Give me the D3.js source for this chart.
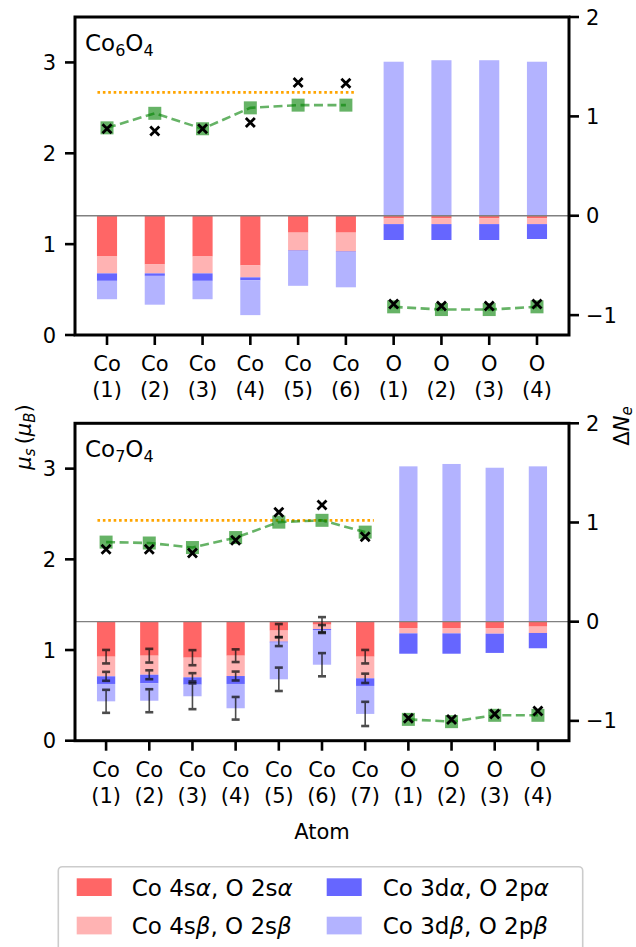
<!DOCTYPE html>
<html>
<head>
<meta charset="utf-8">
<script src="https://cdn.jsdelivr.net/npm/d3@7"></script>
<style>
  body { margin: 0; background: #fff; }
  svg { font-family: "DejaVu Sans", sans-serif; }
</style>
</head>
<body>
<svg id="chart" width="636" height="947"></svg>
<script>
// ---- data, Co6O4 (top panel) ----
const labels6 = ["Co\n(1)", "Co\n(2)", "Co\n(3)", "Co\n(4)", "Co\n(5)", "Co\n(6)", "O\n(1)", "O\n(2)", "O\n(3)", "O\n(4)"];
const sAlpha6 = [-0.41, -0.49, -0.41, -0.50, -0.17, -0.17, -0.027, -0.027, -0.027, -0.027];
const sBeta6  = [-0.17, -0.09, -0.17, -0.12, -0.18, -0.19, -0.057, -0.057, -0.057, -0.057];
const dAlpha6 = [-0.075, -0.025, -0.075, -0.03, -0.005, -0.005, -0.16, -0.16, -0.16, -0.15];
const dBeta6  = [-0.185, -0.29, -0.185, -0.35, -0.35, -0.355, 1.55, 1.565, 1.565, 1.55];
const muSq6    = [2.28, 2.44, 2.27, 2.50, 2.53, 2.53, 0.31, 0.28, 0.28, 0.31];
const muCross6 = [2.27, 2.245, 2.27, 2.34, 2.78, 2.77, 0.34, 0.32, 0.32, 0.34];
const muRef6 = 2.67;

// ---- data, Co7O4 (bottom panel) ----
const labels7 = ["Co\n(1)", "Co\n(2)", "Co\n(3)", "Co\n(4)", "Co\n(5)", "Co\n(6)", "Co\n(7)", "O\n(1)", "O\n(2)", "O\n(3)", "O\n(4)"];
const sAlpha7 = [-0.353, -0.343, -0.363, -0.343, -0.09, -0.03, -0.353, -0.064, -0.064, -0.064, -0.05];
const sBeta7  = [-0.198, -0.192, -0.198, -0.205, -0.111, -0.044, -0.218, -0.054, -0.054, -0.057, -0.064];
const dAlpha7 = [-0.077, -0.087, -0.074, -0.08, -0.01, -0.01, -0.077, -0.205, -0.205, -0.194, -0.154];
const dBeta7  = [-0.175, -0.175, -0.117, -0.245, -0.37, -0.35, -0.282, 1.566, 1.59, 1.552, 1.566];
const muSq7    = [2.19, 2.18, 2.13, 2.24, 2.41, 2.43, 2.30, 0.235, 0.21, 0.28, 0.28];
const muCross7 = [2.11, 2.11, 2.07, 2.21, 2.52, 2.60, 2.25, 0.247, 0.235, 0.294, 0.327];
const muRef7 = 2.43;
// error bars (Co only): after 4s alpha, after 4s beta, on the total
const errS7a  = [0.068, 0.069, 0.076, 0.064, 0.066, 0.076, 0.068];
const errS7b  = [0.045, 0.045, 0.042, 0.045, 0.045, 0.04, 0.047];
const errTot7 = [0.116, 0.116, 0.13, 0.114, 0.118, 0.117, 0.122];

const muTicks = [0, 1, 2, 3];
const dnTicks = [-1, 0, 1, 2];

const keys = ["sAlpha", "sBeta", "dAlpha", "dBeta"];
const colors = { sAlpha: "#ff6666", sBeta: "#ffb3b3", dAlpha: "#6666ff", dBeta: "#b3b3ff" };
const legendNames = [
  ["Co 4s", "α", ", O 2s", "α"],
  ["Co 4s", "β", ", O 2s", "β"],
  ["Co 3d", "α", ", O 2p", "α"],
  ["Co 3d", "β", ", O 2p", "β"]
];

const svg = d3.select("#chart");
const barW = 0.4;

function drawPanel(box, labels, comps, muSq, muCross, nCo, muRef, errs, title) {
  const n = labels.length;
  const pad = 0.05 * (n - 1 + barW);
  const x = d3.scaleLinear()
    .domain([-barW / 2 - pad, n - 1 + barW / 2 + pad])
    .range([box.left, box.right]);
  const yMu = d3.scaleLinear().domain([0, 3.5]).range([box.bottom, box.top]);
  const yDn = d3.scaleLinear().domain([-1.2, 2]).range([box.bottom, box.top]);

  const rows = labels.map((l, i) => ({
    i: i, sAlpha: comps[0][i], sBeta: comps[1][i], dAlpha: comps[2][i], dBeta: comps[3][i]
  }));
  const stacked = d3.stack().keys(keys).offset(d3.stackOffsetDiverging)(rows);

  const g = svg.append("g");

  stacked.forEach(s => {
    g.selectAll(null)
      .data(s)
      .join("rect")
      .attr("x", d => x(d.data.i - barW / 2) - 0.5)
      .attr("width", x(barW) - x(0) + 1)
      .attr("y", d => yDn(Math.max(d[0], d[1])))
      .attr("height", d => Math.abs(yDn(d[0]) - yDn(d[1])))
      .attr("fill", colors[s.key]);
  });

  // zero line of the charge axis
  g.append("line")
    .attr("x1", box.left).attr("x2", box.right)
    .attr("y1", yDn(0)).attr("y2", yDn(0))
    .attr("stroke", "#808080").attr("stroke-width", 1.3);

  // error bars
  if (errs) {
    const ends = [stacked[0], stacked[1], stacked[3]];
    ends.forEach((s, k) => {
      const e = errs[k];
      for (let i = 0; i < e.length; i++) {
        const c = Math.min(s[i][0], s[i][1]);
        const cx = x(i);
        const eg = g.append("g").attr("stroke", "#111").attr("opacity", 0.75);
        eg.append("line").attr("x1", cx).attr("x2", cx)
          .attr("y1", yDn(c - e[i])).attr("y2", yDn(c + e[i])).attr("stroke-width", 1.6);
        [c - e[i], c + e[i]].forEach(v => {
          eg.append("line").attr("x1", cx - 4).attr("x2", cx + 4)
            .attr("y1", yDn(v)).attr("y2", yDn(v)).attr("stroke-width", 2.6);
        });
      }
    });
  }

  // reference moment
  g.append("line")
    .attr("x1", x(-0.2)).attr("x2", x(nCo - 1 + 0.2))
    .attr("y1", yMu(muRef)).attr("y2", yMu(muRef))
    .attr("stroke", "orange").attr("stroke-width", 2.6)
    .attr("stroke-dasharray", "2.6,2.8");

  // moments: dashed lines + squares
  const line = d3.line().x(d => x(d.i)).y(d => yMu(d.v));
  const pts = muSq.map((v, i) => ({ i: i, v: v }));
  [pts.slice(0, nCo), pts.slice(nCo)].forEach(seg => {
    g.append("path")
      .attr("d", line(seg))
      .attr("fill", "none")
      .attr("stroke", "green").attr("stroke-opacity", 0.6)
      .attr("stroke-width", 2.6).attr("stroke-dasharray", "9,4.5");
  });
  g.selectAll(null)
    .data(pts)
    .join("rect")
    .attr("x", d => x(d.i) - 6.5).attr("y", d => yMu(d.v) - 6.5)
    .attr("width", 13).attr("height", 13)
    .attr("fill", "green").attr("fill-opacity", 0.6);

  // crosses
  const cr = 4.5;
  g.selectAll(null)
    .data(muCross.map((v, i) => ({ i: i, v: v })))
    .join("path")
    .attr("d", d => {
      const cx = x(d.i), cy = yMu(d.v);
      return `M${cx - cr},${cy - cr}L${cx + cr},${cy + cr}M${cx - cr},${cy + cr}L${cx + cr},${cy - cr}`;
    })
    .attr("stroke", "#000").attr("stroke-width", 2.8);

  // frame
  g.append("rect")
    .attr("x", box.left).attr("y", box.top)
    .attr("width", box.right - box.left).attr("height", box.bottom - box.top)
    .attr("fill", "none").attr("stroke", "#000").attr("stroke-width", 3);

  // left axis
  muTicks.forEach(t => {
    g.append("line").attr("x1", box.left - 10).attr("x2", box.left)
      .attr("y1", yMu(t)).attr("y2", yMu(t)).attr("stroke", "#000").attr("stroke-width", 2.6);
    g.append("text").attr("x", box.left - 19).attr("y", yMu(t)).attr("dy", "0.36em")
      .attr("text-anchor", "end").attr("font-size", 21).text(t);
  });
  // right axis
  dnTicks.forEach(t => {
    g.append("line").attr("x1", box.right).attr("x2", box.right + 10)
      .attr("y1", yDn(t)).attr("y2", yDn(t)).attr("stroke", "#000").attr("stroke-width", 2.6);
    g.append("text").attr("x", box.right + 17).attr("y", yDn(t)).attr("dy", "0.36em")
      .attr("text-anchor", "start").attr("font-size", 21)
      .text(t < 0 ? "\u2212" + Math.abs(t) : t);
  });
  // bottom axis
  labels.forEach((l, i) => {
    g.append("line").attr("x1", x(i)).attr("x2", x(i))
      .attr("y1", box.bottom).attr("y2", box.bottom + 10)
      .attr("stroke", "#000").attr("stroke-width", 2.6);
    const parts = l.split("\n");
    const t = g.append("text").attr("text-anchor", "middle").attr("font-size", 21);
    t.append("tspan").attr("x", x(i)).attr("y", box.bottom + 36).text(parts[0]);
    t.append("tspan").attr("x", x(i)).attr("y", box.bottom + 62.3).text(parts[1]);
  });

  // panel title
  const tt = g.append("text").attr("x", box.left + 10).attr("y", box.top + 33.5).attr("font-size", 23);
  tt.append("tspan").text(title[0]);
  tt.append("tspan").attr("font-size", 16).attr("dy", 5).text(title[1]);
  tt.append("tspan").attr("dy", -5).text(title[2]);
  tt.append("tspan").attr("font-size", 16).attr("dy", 5).text(title[3]);
}

drawPanel({ left: 75, right: 569, top: 17, bottom: 335 }, labels6,
  [sAlpha6, sBeta6, dAlpha6, dBeta6], muSq6, muCross6, 6, muRef6, null, ["Co", "6", "O", "4"]);
drawPanel({ left: 75, right: 569, top: 423.3, bottom: 740.7 }, labels7,
  [sAlpha7, sBeta7, dAlpha7, dBeta7], muSq7, muCross7, 7, muRef7,
  [errS7a, errS7b, errTot7], ["Co", "7", "O", "4"]);

// axis titles
svg.append("text").attr("x", 322).attr("y", 839.3).attr("text-anchor", "middle")
  .attr("font-size", 21).text("Atom");

const yl = svg.append("text").attr("transform", "translate(31,437) rotate(-90)")
  .attr("text-anchor", "middle").attr("font-size", 21);
yl.append("tspan").attr("font-style", "italic").text("μ");
yl.append("tspan").attr("font-style", "italic").attr("font-size", 15).attr("dy", 4).text("s");
yl.append("tspan").attr("dy", -4).text("\u2009(");
yl.append("tspan").attr("font-style", "italic").text("μ");
yl.append("tspan").attr("font-style", "italic").attr("font-size", 15).attr("dy", 4).text("B");
yl.append("tspan").attr("dy", -4).text(")");

const yr = svg.append("text").attr("transform", "translate(629,426) rotate(-90)")
  .attr("text-anchor", "middle").attr("font-size", 21);
yr.append("tspan").text("Δ");
yr.append("tspan").attr("font-style", "italic").text("N");
yr.append("tspan").attr("font-style", "italic").attr("font-size", 15).attr("dy", 3).text("e");

// legend
const lg = svg.append("g");
lg.append("rect").attr("x", 58.3).attr("y", 866.7).attr("width", 524.4).attr("height", 90)
  .attr("rx", 4).attr("fill", "#fff").attr("stroke", "#cccccc").attr("stroke-width", 1.6);
const legPos = [
  { px: 76.7, ty: 878.3, tx: 131.7 },
  { px: 76.7, ty: 916.7, tx: 131.7 },
  { px: 326.7, ty: 878.3, tx: 382.7 },
  { px: 326.7, ty: 916.7, tx: 382.7 }
];
keys.forEach((k, i) => {
  const p = legPos[i];
  lg.append("rect").attr("x", p.px).attr("y", p.ty).attr("width", 35).attr("height", 17.7)
    .attr("fill", colors[k]);
  const t = lg.append("text").attr("x", p.tx).attr("y", p.ty + 17.2).attr("font-size", 23);
  legendNames[i].forEach((s, j) => {
    t.append("tspan").attr("font-style", j % 2 ? "italic" : "normal").text(s);
  });
});
</script>
</body>
</html>
